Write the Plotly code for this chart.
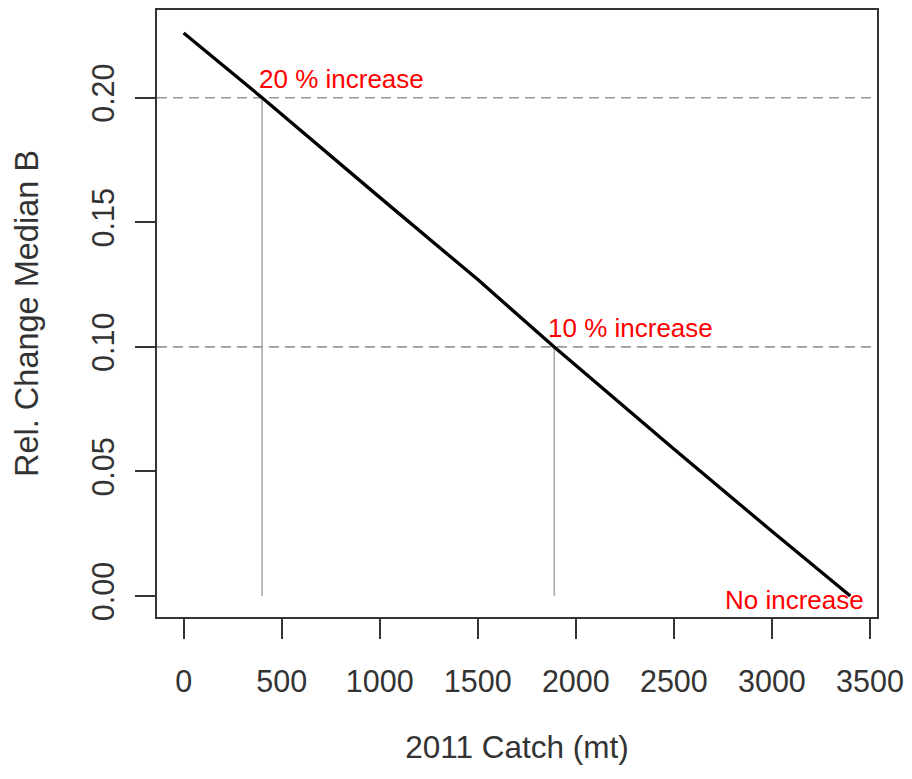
import plotly.graph_objects as go

# Data
catch = [0, 400, 1000, 1500, 1890, 2500, 3000, 3400]
rel_change = [0.226, 0.200, 0.160, 0.127, 0.100, 0.059, 0.026, 0.000]

ref_levels = [0.20, 0.10]
ref_catch = [400, 1890]

labels = ["20 % increase", "10 % increase", "No increase"]
label_x = [372, 1846, 3480]
label_y = [0.20, 0.10, 0.0]

x_ticks = [0, 500, 1000, 1500, 2000, 2500, 3000, 3500]
y_ticks = [0.00, 0.05, 0.10, 0.15, 0.20]
y_ticktext = ["0.00", "0.05", "0.10", "0.15", "0.20"]

FONT = "Liberation Sans, Arial, sans-serif"
AXIS_COL = "#333333"

fig = go.Figure()

# reference dashed lines
for lv in ref_levels:
    fig.add_hline(y=lv, line=dict(color="#999999", width=1.6, dash="10px,6px"), layer="below")

# vertical grey segments
for cx, lv in zip(ref_catch, ref_levels):
    fig.add_trace(go.Scatter(x=[cx, cx], y=[0, lv], mode="lines",
                             line=dict(color="#aaaaaa", width=1.6), showlegend=False,
                             hoverinfo="skip"))

# main line
fig.add_trace(go.Scatter(x=catch, y=rel_change, mode="lines",
                         line=dict(color="black", width=3.3), showlegend=False))

# labels
anchors = [("left", "bottom", 2), ("left", "bottom", 2), ("right", "middle", -4)]
for t, x, y, (xa, ya, ys) in zip(labels, label_x, label_y, anchors):
    fig.add_annotation(x=x, y=y, text=t, showarrow=False, xanchor=xa, yanchor=ya,
                       yshift=ys, font=dict(family=FONT, size=26, color="red"))

fig.update_layout(
    width=912, height=779,
    margin=dict(l=157, r=32, t=8, b=162),
    plot_bgcolor="white", paper_bgcolor="white",
    font=dict(family=FONT, size=30, color=AXIS_COL),
    showlegend=False,
)
fig.update_xaxes(
    range=[-136, 3536], tickvals=x_ticks, ticks="outside", ticklen=20, tickwidth=2,
    tickcolor=AXIS_COL, showline=True, linecolor=AXIS_COL, linewidth=2, mirror=True,
    showgrid=False, zeroline=False, ticklabelstandoff=16,
    title=dict(text="2011 Catch (mt)", standoff=39, font=dict(size=31.5, color=AXIS_COL)),
    tickfont=dict(size=30.5, color=AXIS_COL),
)
fig.update_yaxes(
    range=[-0.0084, 0.2352], tickvals=y_ticks, ticktext=y_ticktext, ticks="outside",
    ticklen=20, tickwidth=2, tickcolor=AXIS_COL, showline=True, linecolor=AXIS_COL,
    linewidth=2, mirror=True, showgrid=False, zeroline=False, tickangle=-90,
    ticklabelstandoff=9,
    title=dict(text="Rel. Change Median B", standoff=37, font=dict(size=32.5, color=AXIS_COL)),
    tickfont=dict(size=30.5, color=AXIS_COL),
)

fig.write_html("out.html")
